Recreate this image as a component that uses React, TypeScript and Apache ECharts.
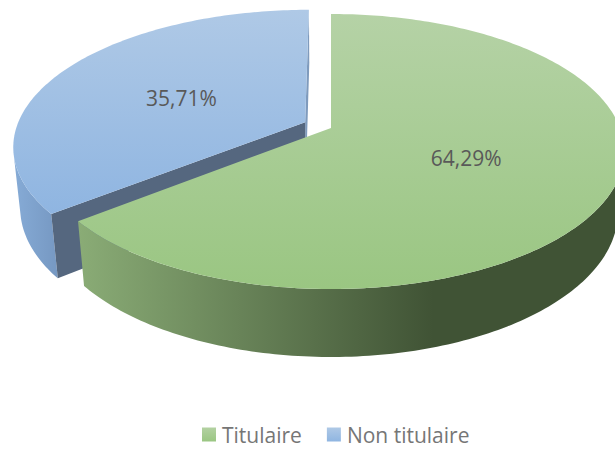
import React, { useEffect, useRef } from "react";
import * as echarts from "echarts";

const categories = ["Titulaire", "Non titulaire"];
const values = [64.29, 35.71];
const explode = [0, 0.1];

const FONT = "'Open Sans', sans-serif";
const total = values.reduce((a, b) => a + b, 0);

// 3D view of the unit disc: camera looking down with perspective
const project = (X: number, Y: number, Z: number): [number, number] => {
  const w = 1 - 0.171 * Y + 0.0217 * Z;
  return [331 + (289 * X) / w, 128 + (133.5 * Y + 61.3 * Z) / w];
};

const vGrad = (a: string, b: string) => ({
  type: "linear", x: 0, y: 0, x2: 0, y2: 1,
  colorStops: [{ offset: 0, color: a }, { offset: 1, color: b }],
});
const hGrad = (stops: [number, string][]) => ({
  type: "linear", x: 0, y: 0, x2: 1, y2: 0,
  colorStops: stops.map(([offset, color]) => ({ offset, color })),
});

const looks = [
  {
    top: vGrad("#b5d2a6", "#9ac682"),
    rim: hGrad([[0, "#8aac76"], [0.65, "#405335"], [1, "#405335"]]),
    cutStart: "#5a7a48",
    cutEnd: "#5a7a48",
    legend: vGrad("#b3d1a2", "#9ac682"),
    labelDy: 0,
  },
  {
    top: vGrad("#afc9e6", "#8fb5e1"),
    rim: hGrad([[0, "#86abd6"], [1, "#7698c2"]]),
    cutStart: "#55677f",
    cutEnd: "#7f9bbd",
    legend: vGrad("#afc9e6", "#8fb5e1"),
    labelDy: 3,
  },
];

const sliceRenderer = (idx: number) => (_params: any, api: any) => {
  const v = api.value(0) as number;
  const before = values.slice(0, idx).reduce((a, b) => a + b, 0);
  const a0 = (before / total) * Math.PI * 2;
  const a1 = a0 + (v / total) * Math.PI * 2;
  const mid = (a0 + a1) / 2;
  const ox = explode[idx] * Math.sin(mid);
  const oy = -explode[idx] * Math.cos(mid);
  const pt = (ang: number, r: number, z: number) =>
    project(ox + r * Math.sin(ang), oy - r * Math.cos(ang), z);

  const steps = Math.ceil(((a1 - a0) * 180) / Math.PI);
  const arc = (z: number) => {
    const out: [number, number][] = [];
    for (let i = 0; i <= steps; i++) out.push(pt(a0 + ((a1 - a0) * i) / steps, 1, z));
    return out;
  };
  const look = looks[idx];
  const poly = (points: [number, number][], fill: any) => ({
    type: "polygon",
    shape: { points },
    style: { fill },
  });
  // Rim: only the part that faces the viewer, so the silhouette is the straight
  // tangent between the upper and lower circles.
  const upper = arc(0);
  const lower = arc(1);
  const facing: number[] = [];
  for (let i = 0; i <= steps; i++) {
    const j = Math.min(i, steps - 1);
    const tx = upper[j + 1][0] - upper[j][0];
    const ty = upper[j + 1][1] - upper[j][1];
    const dx = lower[i][0] - upper[i][0];
    const dy = lower[i][1] - upper[i][1];
    if (tx * dy - ty * dx < 0) facing.push(i);
  }
  const side = poly(
    [...facing.map((i) => upper[i]), ...facing.slice().reverse().map((i) => lower[i])],
    look.rim
  );
  const cut0 = poly([pt(a0, 0, 0), pt(a0, 1, 0), pt(a0, 1, 1), pt(a0, 0, 1)], look.cutStart);
  const cut1 = poly([pt(a1, 0, 0), pt(a1, 1, 0), pt(a1, 1, 1), pt(a1, 0, 1)], look.cutEnd);
  const top = poly([pt(a0, 0, 0), ...upper], look.top);
  const [lx, ly] = pt(mid, 0.5, 0);
  const text = {
    type: "text",
    style: {
      text: v.toFixed(2).replace(".", ",") + "%",
      x: lx,
      y: ly + look.labelDy,
      align: "center",
      verticalAlign: "middle",
      fill: "#595959",
      fontSize: 21,
      fontFamily: FONT,
    },
  };
  const children = idx === 0 ? [side, top, text] : [cut1, side, cut0, top, text];
  return { type: "group", children };
};

export default function App() {
  const ref = useRef<HTMLDivElement>(null);
  useEffect(() => {
    const chart = echarts.init(ref.current!, undefined, { renderer: "svg" });
    const mk = (idx: number) => ({
      type: "custom",
      name: categories[idx],
      coordinateSystem: "none",
      renderItem: sliceRenderer(idx),
      itemStyle: { color: looks[idx].legend },
      data: [{ name: categories[idx], value: [values[idx]] }],
      silent: true,
      clip: false,
    });
    chart.setOption({
      animation: false,
      backgroundColor: "#ffffff",
      legend: {
        data: categories,
        left: 202,
        top: 424,
        itemWidth: 14,
        itemHeight: 14,
        itemGap: 25,
        icon: "rect",
        selectedMode: false,
        padding: 0,
        textStyle: { fontFamily: FONT, fontSize: 21, color: "#767676", padding: [0, 0, 0, 1] },
      },
      series: [mk(1), mk(0)],
    });
    return () => chart.dispose();
  }, []);
  return (
    <div
      ref={ref}
      style={{ position: "fixed", left: 0, top: 0, width: 615, height: 449, overflow: "hidden" }}
    />
  );
}
